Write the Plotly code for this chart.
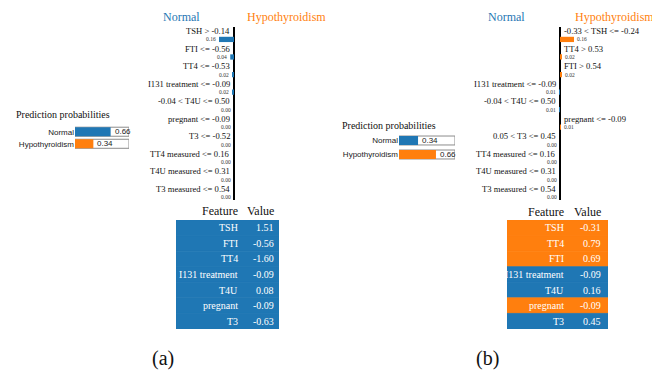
import plotly.graph_objects as go

W, H = 652, 371
BLUE = "#1f77b4"
ORANGE = "#ff7f0e"
SERIF = "Liberation Serif, Times New Roman, serif"
SANS = "Liberation Sans, Arial, sans-serif"

# ---------------- data ----------------
classes = ["Normal", "Hypothyroidism"]
proba_a = [0.66, 0.34]
proba_b = [0.34, 0.66]

features_a = ["TSH > -0.14", "FTI <= -0.56", "TT4 <= -0.53", "I131 treatment <= -0.09",
              "-0.04 < T4U <= 0.50", "pregnant <= -0.09", "T3 <= -0.52",
              "TT4 measured <= 0.16", "T4U measured <= 0.31", "T3 measured <= 0.54"]
weights_a = [0.16, 0.04, 0.02, 0.02, 0.00, 0.00, 0.00, 0.00, 0.00, 0.00]
sides_a = ["Normal"] * 10

features_b = ["-0.33 < TSH <= -0.24", "TT4 > 0.53", "FTI > 0.54", "I131 treatment <= -0.09",
              "-0.04 < T4U <= 0.50", "pregnant <= -0.09", "0.05 < T3 <= 0.45",
              "TT4 measured <= 0.16", "T4U measured <= 0.31", "T3 measured <= 0.54"]
weights_b = [0.16, 0.02, 0.02, 0.01, 0.01, 0.01, 0.00, 0.00, 0.00, 0.00]
sides_b = ["Hypothyroidism", "Hypothyroidism", "Hypothyroidism", "Normal", "Normal",
           "Hypothyroidism", "Normal", "Normal", "Normal", "Normal"]

table_header = ["Feature", "Value"]
table_feat_a = ["TSH", "FTI", "TT4", "I131 treatment", "T4U", "pregnant", "T3"]
table_val_a = ["1.51", "-0.56", "-1.60", "-0.09", "0.08", "-0.09", "-0.63"]
table_side_a = ["Normal"] * 7

table_feat_b = ["TSH", "TT4", "FTI", "I131 treatment", "T4U", "pregnant", "T3"]
table_val_b = ["-0.31", "0.79", "0.69", "-0.09", "0.16", "-0.09", "0.45"]
table_side_b = ["Hypothyroidism", "Hypothyroidism", "Hypothyroidism", "Normal", "Normal",
                "Hypothyroidism", "Normal"]

class_color = {"Normal": BLUE, "Hypothyroidism": ORANGE}


def px_x(x):
    return x / W


def px_y(y):
    return 1 - y / H


def esc(s):
    return s.replace("<", "&lt;").replace(">", "&gt;")


fig = go.Figure()
layout = {}
annotations = []

panels = [
    dict(proba=proba_a, feats=features_a, weights=weights_a, sides=sides_a,
         tfeat=table_feat_a, tval=table_val_a, tside=table_side_a,
         pax=1, lax=2, tax=3,
         pdom_x=(75, 129), pdom_y=(125.7, 149.8), pbw=0.75, ptitle=(14, 114),
         ldom_x=(140, 330), zero=234, scale=93.75,
         tnorm=(181, "center"), thyp=(286, "center"),
         tdom_x=(176, 279), tcol_r=(240, 276), thead_y=211, cap=(163, "(a)")),
    dict(proba=proba_b, feats=features_b, weights=weights_b, sides=sides_b,
         tfeat=table_feat_b, tval=table_val_b, tside=table_side_b,
         pax=4, lax=5, tax=6,
         pdom_x=(399, 455), pdom_y=(133.5, 161.5), pbw=0.64, ptitle=(340, 125),
         ldom_x=(470, 650), zero=560, scale=87.5,
         tnorm=(507, "center"), thyp=(573, "left"),
         tdom_x=(507, 608), tcol_r=(566, 603), thead_y=212, cap=(487, "(b)")),
]

row_top, row_step = 31, 17.56


def ax_names(k):
    sfx = "" if k == 1 else str(k)
    return f"x{k}", f"y{k}", f"xaxis{sfx}", f"yaxis{sfx}"


for p in panels:
    # ---------- prediction probabilities ----------
    xa, ya, xk, yk = ax_names(p["pax"])
    ypos = list(range(len(classes)))
    fig.add_trace(go.Bar(x=[1] * len(classes), y=ypos, orientation="h", width=p["pbw"],
                         marker=dict(color="white", line=dict(color="#8c8c8c", width=1)),
                         xaxis=xa, yaxis=ya, showlegend=False, hoverinfo="skip"))
    fig.add_trace(go.Bar(x=p["proba"], y=ypos, orientation="h", width=p["pbw"],
                         marker=dict(color=[class_color[c] for c in classes], line=dict(width=0)),
                         xaxis=xa, yaxis=ya, showlegend=False))
    layout[xk] = dict(domain=[px_x(p["pdom_x"][0]), px_x(p["pdom_x"][1])],
                      range=[0, 1], visible=False, anchor=ya, fixedrange=True)
    layout[yk] = dict(domain=[px_y(p["pdom_y"][1]), px_y(p["pdom_y"][0])],
                      range=[1.5, -0.5], tickvals=ypos, ticktext=classes,
                      showgrid=False, zeroline=False, showline=False, ticks="",
                      tickfont=dict(family=SANS, size=8, color="#222"),
                      anchor=xa, fixedrange=True)
    for i, v in enumerate(p["proba"]):
        annotations.append(dict(x=v, y=i, xref=xa, yref=ya, text=f"{v:.2f}", showarrow=False,
                                xanchor="left", xshift=2, yanchor="middle",
                                font=dict(family=SANS, size=8, color="#222")))
    annotations.append(dict(x=px_x(p["ptitle"][0]), y=px_y(p["ptitle"][1]), xref="paper", yref="paper",
                            text="Prediction probabilities", showarrow=False, xanchor="left",
                            yanchor="middle", font=dict(family=SERIF, size=10, color="#111")))

    # ---------- explanation bars ----------
    xa, ya, xk, yk = ax_names(p["lax"])
    n = len(p["feats"])
    signed = [(-w if s == "Normal" else w) for w, s in zip(p["weights"], p["sides"])]
    fig.add_trace(go.Bar(x=signed, y=[i + 0.48 for i in range(n)], orientation="h", width=0.3,
                         marker=dict(color=[class_color[s] for s in p["sides"]], line=dict(width=0)),
                         xaxis=xa, yaxis=ya, showlegend=False))
    lo = (p["ldom_x"][0] - p["zero"]) / p["scale"]
    hi = (p["ldom_x"][1] - p["zero"]) / p["scale"]
    y_lo = (27 - row_top) / row_step
    y_hi = (200 - row_top) / row_step
    layout[xk] = dict(domain=[px_x(p["ldom_x"][0]), px_x(p["ldom_x"][1])],
                      range=[lo, hi], showgrid=False, showticklabels=False,
                      ticks="", showline=False, zeroline=True,
                      zerolinecolor="black", zerolinewidth=2, anchor=ya, fixedrange=True)
    layout[yk] = dict(domain=[px_y(200), px_y(27)], range=[y_hi, y_lo],
                      visible=False, anchor=xa, fixedrange=True)
    for i, (f, w, s, sv) in enumerate(zip(p["feats"], p["weights"], p["sides"], signed)):
        left = s == "Normal"
        annotations.append(dict(x=0, y=i, xref=xa, yref=ya, text=esc(f), showarrow=False,
                                xanchor="right" if left else "left", xshift=-2 if left else 2,
                                yanchor="middle", font=dict(family=SERIF, size=8.6, color="#111")))
        annotations.append(dict(x=sv, y=i + 0.48, xref=xa, yref=ya, text=f"{w:.2f}", showarrow=False,
                                xanchor="right" if left else "left", xshift=-1 if left else 1,
                                yanchor="middle", font=dict(family=SERIF, size=5.5, color="#333")))
    annotations.append(dict(x=px_x(p["tnorm"][0]), y=px_y(17), xref="paper", yref="paper",
                            text="Normal", showarrow=False, xanchor=p["tnorm"][1], yanchor="middle",
                            font=dict(family=SERIF, size=12, color=BLUE)))
    annotations.append(dict(x=px_x(p["thyp"][0]), y=px_y(17), xref="paper", yref="paper",
                            text="Hypothyroidism", showarrow=False, xanchor=p["thyp"][1],
                            yanchor="middle", font=dict(family=SERIF, size=12, color=ORANGE)))

    # ---------- feature / value table (cells drawn as bars) ----------
    xa, ya, xk, yk = ax_names(p["tax"])
    nr = len(p["tfeat"])
    colors = [class_color[s] for s in p["tside"]]
    fig.add_trace(go.Bar(x=[1] * nr, y=list(range(nr)), orientation="h", width=1.0,
                         marker=dict(color=colors, line=dict(color=colors, width=0.8)),
                         xaxis=xa, yaxis=ya, showlegend=False, hoverinfo="skip"))
    x0, x1 = p["tdom_x"]
    layout[xk] = dict(domain=[px_x(x0), px_x(x1)], range=[0, 1], visible=False,
                      anchor=ya, fixedrange=True)
    layout[yk] = dict(domain=[px_y(329), px_y(220)], range=[nr - 0.5, -0.5], visible=False,
                      anchor=xa, fixedrange=True)
    fr = [(c - x0) / (x1 - x0) for c in p["tcol_r"]]
    for i in range(nr):
        annotations.append(dict(x=fr[0], y=i, xref=xa, yref=ya, text=p["tfeat"][i], showarrow=False,
                                xanchor="right", yanchor="middle",
                                font=dict(family=SERIF, size=10, color="white")))
        annotations.append(dict(x=fr[1], y=i, xref=xa, yref=ya, text=p["tval"][i], showarrow=False,
                                xanchor="right", yanchor="middle",
                                font=dict(family=SERIF, size=10, color="white")))
    for c, h in zip(p["tcol_r"], table_header):
        annotations.append(dict(x=px_x(c), y=px_y(p["thead_y"]), xref="paper", yref="paper",
                                text=h, showarrow=False, xanchor="right", yanchor="middle",
                                font=dict(family=SERIF, size=12, color="#111")))

    annotations.append(dict(x=px_x(p["cap"][0]), y=px_y(358), xref="paper", yref="paper",
                            text=p["cap"][1], showarrow=False, xanchor="center", yanchor="middle",
                            font=dict(family=SERIF, size=20, color="#111")))

fig.update_layout(width=W, height=H, margin=dict(l=0, r=0, t=0, b=0),
                  paper_bgcolor="white", plot_bgcolor="white", barmode="overlay",
                  showlegend=False, annotations=annotations, **layout)

fig.write_html("out.html", config={"displayModeBar": False},
               post_script="document.body.style.margin='0px';document.body.style.overflow='hidden';")
